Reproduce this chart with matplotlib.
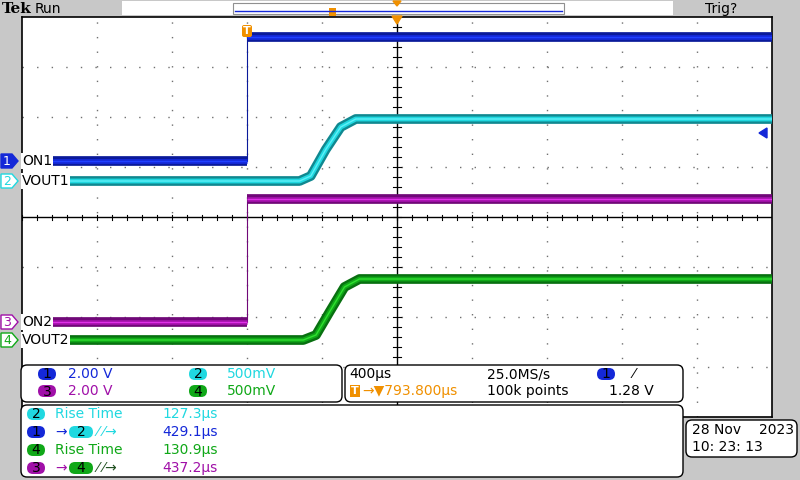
import matplotlib
matplotlib.use("Agg")
import matplotlib.pyplot as plt
from matplotlib.patches import FancyBboxPatch, Rectangle, Polygon

# time in divisions (400us/div), voltage in divisions
ch1_t = [-4.63, -2.0, -2.0, 5.0]
ch1_v = [1.12, 1.12, 3.6, 3.6]
ch2_t = [-4.4, -1.3, -1.15, -0.95, -0.75, -0.55, 5.0]
ch2_v = [0.72, 0.72, 0.82, 1.35, 1.8, 1.96, 1.96]
ch3_t = [-4.63, -2.0, -2.0, 5.0]
ch3_v = [-2.1, -2.1, 0.36, 0.36]
ch4_t = [-4.4, -1.25, -1.08, -0.9, -0.7, -0.5, 5.0]
ch4_v = [-2.46, -2.46, -2.36, -1.9, -1.4, -1.24, -1.24]

labels = ["ON1", "VOUT1", "ON2", "VOUT2"]
colors = {"1": "#1428d8", "2": "#20d8e0", "3": "#a010a8", "4": "#10a818"}
dark = {"1": "#0a1a9a", "2": "#108890", "3": "#700878", "4": "#087010"}
bright = {"1": "#2040ff", "2": "#60f0f8", "3": "#e030e8", "4": "#30e030"}

fig = plt.figure(figsize=(8, 4.8), dpi=100)
fig.patch.set_facecolor("#c8c8c8")

ax = fig.add_axes([22 / 800, (480 - 417) / 480, 750 / 800, 400 / 480])
ax.set_xlim(-5, 5)
ax.set_ylim(-4, 4)
ax.set_facecolor("white")
ax.set_xticks([])
ax.set_yticks([])
for s in ax.spines.values():
    s.set_linewidth(1.2)

ui = fig.add_axes([0, 0, 1, 1])
ui.set_zorder(10)
ui.set_xlim(0, 800)
ui.set_ylim(480, 0)
ui.axis("off")

# graticule
for x in range(-4, 5):
    if x != 0:
        ax.plot([x, x], [-4, 4], color="#707070", lw=1, ls=(0, (1, 9.5)), zorder=1)
for y in range(-3, 4):
    if y != 0:
        ax.plot([-5, 5], [y, y], color="#707070", lw=1, ls=(0, (1, 9.5)), zorder=1)
ax.axhline(0, color="black", lw=1, zorder=1)
ax.axvline(0, color="black", lw=1, zorder=1)
for k in range(-25, 26):
    t = k / 5
    ax.plot([t, t], [-0.05, 0.05], color="black", lw=0.8, zorder=1)
for k in range(-20, 21):
    t = k / 5
    ax.plot([-0.05, 0.05], [t, t], color="black", lw=0.8, zorder=1)

# edges connecting segments (thin)
ax.plot([-2, -2], [1.12, 3.6], color=dark["1"], lw=0.8, zorder=2)
ax.plot([-2, -2], [-2.1, 0.36], color=dark["3"], lw=0.8, zorder=2)

for ch, t, v in [("1", ch1_t, ch1_v), ("3", ch3_t, ch3_v), ("2", ch2_t, ch2_v), ("4", ch4_t, ch4_v)]:
    if ch in "13":
        segs = [(t[:2], v[:2]), (t[2:], v[2:])]
    else:
        segs = [(t, v)]
    for tt, vv in segs:
        ax.plot(tt, vv, color=dark[ch], lw=7, solid_capstyle="butt", solid_joinstyle="round", zorder=3)
        ax.plot(tt, vv, color=colors[ch], lw=3.5, solid_capstyle="butt", solid_joinstyle="round", zorder=4)
        ax.plot(tt, vv, color=bright[ch], lw=1, solid_capstyle="butt", zorder=5)

# top bar
ui.text(2, 9, "Tek", fontsize=11, fontweight="bold", family="DejaVu Serif", va="center")
ui.text(35, 9, "Run", fontsize=10, va="center")
ui.add_patch(Rectangle((122, 1), 551, 14, facecolor="white", edgecolor="none"))
ui.add_patch(Rectangle((233, 3), 331, 11, facecolor="white", edgecolor="#909090", lw=0.8))
ui.plot([235, 562], [11, 11], color="#1428d8", lw=1)
ui.add_patch(Polygon([[393, 1], [401, 1], [397, 6]], color="#f09000"))
ui.add_patch(Rectangle((329, 8), 7, 8, facecolor="#f09000", edgecolor="none"))
ui.text(705, 9, "Trig?", fontsize=10, va="center")

# trigger markers
ui.add_patch(Polygon([[392, 16], [402, 16], [397, 24]], color="#f09000", zorder=10))
ui.add_patch(FancyBboxPatch((242, 25), 10, 12, boxstyle="round,pad=0,rounding_size=2",
                            facecolor="#f09000", edgecolor="none", zorder=10))
ui.text(247, 31, "T", fontsize=8, color="white", ha="center", va="center", fontweight="bold", zorder=11)
ui.add_patch(Polygon([[759, 133], [767, 128], [767, 138]], color="#1428d8", zorder=10))

# channel markers on the left
def badge(x, y, num, fc, tc="black", w=18, h=12):
    ui.add_patch(FancyBboxPatch((x - w / 2, y - h / 2), w, h, boxstyle="round,pad=0,rounding_size=6",
                                facecolor=fc, edgecolor="none", zorder=12))
    ui.text(x, y + 0.5, num, fontsize=10, color=tc, ha="center", va="center", zorder=13)

for num, y, lab in [("1", 161, "ON1"), ("2", 181, "VOUT1"), ("3", 322, "ON2"), ("4", 340, "VOUT2")]:
    filled = num in "1"
    fc = colors[num] if filled else "white"
    ui.add_patch(Polygon([[1, y - 7], [12, y - 7], [18, y], [12, y + 7], [1, y + 7]],
                         facecolor=fc, edgecolor=colors[num], lw=1, zorder=12))
    ui.text(7, y + 0.5, num, fontsize=9, color="white" if filled else colors[num],
            ha="center", va="center", zorder=13)
    ui.text(22, y, lab, fontsize=10, va="center", zorder=13,
            bbox=dict(facecolor="white", edgecolor="none", pad=0.5))

# lower panels
def panel(x, y, w, h):
    ui.add_patch(FancyBboxPatch((x, y), w, h, boxstyle="round,pad=0,rounding_size=6",
                                facecolor="white", edgecolor="black", lw=1, zorder=12))

panel(21, 365, 321, 37)
panel(345, 365, 338, 37)
panel(21, 405, 662, 72)
panel(686, 420, 111, 37)

fs = 10
badge(47, 374, "1", colors["1"])
ui.text(68, 374, "2.00 V", fontsize=fs, color=colors["1"], va="center", zorder=13)
badge(47, 391, "3", colors["3"])
ui.text(68, 391, "2.00 V", fontsize=fs, color=colors["3"], va="center", zorder=13)
badge(198, 374, "2", colors["2"])
ui.text(227, 374, "500mV", fontsize=fs, color=colors["2"], va="center", zorder=13)
badge(198, 391, "4", colors["4"])
ui.text(227, 391, "500mV", fontsize=fs, color=colors["4"], va="center", zorder=13)

ui.text(349, 374, "400µs", fontsize=fs, va="center", zorder=13)
ui.text(487, 374, "25.0MS/s", fontsize=fs, va="center", zorder=13)
badge(606, 374, "1", colors["1"])
ui.text(633, 374, "⁄", fontsize=fs, va="center", zorder=13)
ui.add_patch(Rectangle((350, 385), 10, 12, facecolor="#f09000", edgecolor="none", zorder=12))
ui.text(355, 391, "T", fontsize=8, color="white", ha="center", va="center", fontweight="bold", zorder=13)
ui.text(362, 391, "→▼793.800µs", fontsize=fs, color="#f09000", va="center", zorder=13)
ui.text(487, 391, "100k points", fontsize=fs, va="center", zorder=13)
ui.text(609, 391, "1.28 V", fontsize=fs, va="center", zorder=13)

rows = [
    ("2", None, "Rise Time", "127.3µs", "2"),
    ("1", "2", "⁄ ⁄→", "429.1µs", "1"),
    ("4", None, "Rise Time", "130.9µs", "4"),
    ("3", "4", "⁄ ⁄→", "437.2µs", "3"),
]
for i, (a, b, txt, val, vc) in enumerate(rows):
    y = 414 + i * 18
    badge(36, y, a, colors[a])
    if b is None:
        ui.text(55, y, txt, fontsize=fs, color=colors[a], va="center", zorder=13)
    else:
        ui.text(55, y, "→", fontsize=fs, color=colors[a], va="center", zorder=13)
        badge(81, y, b, colors[b], w=24)
        ui.text(97, y, txt, fontsize=fs, color=colors[b] if b == "2" else "#205020",
                va="center", zorder=13)
    ui.text(162, y, val, fontsize=fs, color=colors[vc], va="center", zorder=13)

ui.text(692, 430, "28 Nov", fontsize=fs, va="center", zorder=13)
ui.text(794, 430, "2023", fontsize=fs, ha="right", va="center", zorder=13)
ui.text(692, 447, "10: 23: 13", fontsize=fs, va="center", zorder=13)

fig.savefig("out.png", dpi=100, facecolor=fig.get_facecolor())
